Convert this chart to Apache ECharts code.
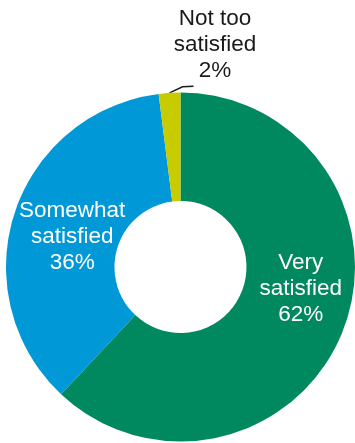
<!DOCTYPE html>
<html>
<head>
<meta charset="utf-8">
<script src="https://cdn.jsdelivr.net/npm/echarts@6/dist/echarts.min.js"></script>
<style>
  html, body { margin: 0; padding: 0; background: #ffffff; }
  #chart { width: 355px; height: 443px; }
</style>
</head>
<body>
<div id="chart"></div>
<script>
// Satisfaction shares, in slice order (clockwise from 12 o'clock)
const categories = ['Very satisfied', 'Somewhat satisfied', 'Not too satisfied'];
const shares = [62, 36, 2];
const sliceColors = ['#00885E', '#0098D6', '#C6CC00'];

// Nudges applied to the default inside-label positions [dx, dy]
const insideLabelShift = [[5.7, -24], [8.9, 7.6]];

const FONT = '"Liberation Sans", Arial, Helvetica, sans-serif';
const chart = echarts.init(document.getElementById('chart'), null, { renderer: 'canvas' });

// "Very satisfied" -> "Very\nsatisfied\n62%"
function labelText(p) {
  return p.name.replace(/ (\S+)$/, '\n$1') + '\n' + p.value + '%';
}

chart.setOption({
  animation: false,
  series: [{
    type: 'pie',
    center: [180.5, 267],
    radius: [66, 174.5],
    startAngle: 90,
    clockwise: true,
    avoidLabelOverlap: false,
    silent: true,
    itemStyle: { borderWidth: 0 },
    label: {
      fontFamily: FONT,
      fontSize: 22.5,
      lineHeight: 26,
      formatter: labelText
    },
    labelLine: {
      length: 10,
      length2: 10,
      lineStyle: { color: '#1a1a1a', width: 1.5 }
    },
    data: categories.map((name, i) => {
      const inside = i < insideLabelShift.length;
      return {
        name: name,
        value: shares[i],
        itemStyle: { color: sliceColors[i] },
        label: inside
          ? { position: 'inside', color: '#ffffff' }
          : { position: 'outside', color: '#1a1a1a' },
        labelLine: { show: !inside }
      };
    }),
    labelLayout: function (params) {
      const shift = insideLabelShift[params.dataIndex];
      if (shift) {
        return { dx: shift[0], dy: shift[1] };
      }
      // Outer label: short kinked leader from the slice edge, text above and to the right
      const pts = params.labelLinePoints;
      if (!pts) return {};
      const p0 = pts[0];
      return {
        x: p0[0] + 45.5,
        y: p0[1] - 48,
        align: 'center',
        verticalAlign: 'middle',
        labelLinePoints: [
          [p0[0], p0[1]],
          [p0[0] + 13, p0[1] - 6],
          [p0[0] + 24, p0[1] - 6.5]
        ]
      };
    }
  }]
});
</script>
</body>
</html>
